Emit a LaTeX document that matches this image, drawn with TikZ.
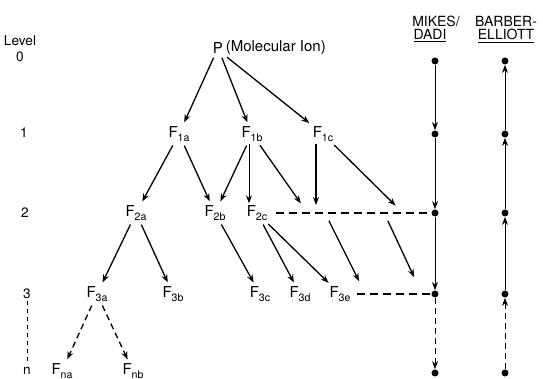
\documentclass[tikz,border=0pt]{standalone}
\usepackage{fontspec}
\setmainfont{TeX Gyre Heros}
\usetikzlibrary{arrows.meta}

\tikzset{
  lbl/.style={font=\fontsize{7.5}{8}\selectfont, inner sep=1pt},
  lvl/.style={font=\fontsize{6.8}{7}\selectfont, inner sep=1pt},
  hdr/.style={font=\fontsize{7}{7}\selectfont, inner sep=0.5pt},
  arr/.style={-{Stealth[length=4pt,width=3pt]}, line width=0.65pt, shorten >=1pt, shorten <=1pt},
  darr/.style={arr, dash pattern=on 3pt off 2pt},
  varr/.style={-{Stealth[length=4pt,width=3pt]}, line width=0.45pt},
  dline/.style={line width=0.8pt, dash pattern=on 4pt off 2.5pt},
  dot/.style={circle, fill, inner sep=0pt, minimum size=3.5pt},
}
\newcommand{\frag}[1]{F\raisebox{-0.45ex}{\fontsize{5.3}{5}\selectfont #1}}

\begin{document}
\begin{tikzpicture}[x=0.5pt, y=-0.5pt]
    \useasboundingbox (0,0) rectangle (543,379);

    % levels
    \node[lvl] (level) at (20,41) {Level};
    \node[lvl] (lev0) at (20,57) {0};
    \node[lvl] (lev1) at (24,133) {1};
    \node[lvl] (lev2) at (25,213) {2};
    \node[lvl] (lev3) at (27,294) {3};
    \node[lvl] (levn) at (27,371) {n};
    \draw[dash pattern=on 2pt off 2pt, line width=0.4pt] (lev3) -- (levn);

    % fragmentation tree
    \node[lbl] (P) at (218,48) {P};
    \node[lbl, anchor=west, inner sep=0pt] (ion) at (P.east) {(Molecular Ion)};
    \node[lbl] (f1a) at (179,134) {\frag{1a}};
    \node[lbl] (f1b) at (252,134) {\frag{1b}};
    \node[lbl] (f1c) at (323,134) {\frag{1c}};
    \node[lbl] (f2a) at (136,213) {\frag{2a}};
    \node[lbl] (f2b) at (215,213) {\frag{2b}};
    \node[lbl] (f2c) at (257,213) {\frag{2c}};
    \node[lbl] (f3a) at (97,294) {\frag{3a}};
    \node[lbl] (f3b) at (173,294) {\frag{3b}};
    \node[lbl] (f3c) at (260,294) {\frag{3c}};
    \node[lbl] (f3d) at (300,294) {\frag{3d}};
    \node[lbl] (f3e) at (340,294) {\frag{3e}};
    \node[lbl] (fna) at (62,371) {\frag{na}};
    \node[lbl] (fnb) at (133,371) {\frag{nb}};

    \draw[arr] (P) -- (f1a);
    \draw[arr] (P) -- (f1b);
    \draw[arr] (P.south east) -- (f1c);
    \draw[arr] (f1a) -- (f2a);
    \draw[arr] (f1a) -- (f2b);
    \draw[arr] (f1b) -- (f2b);
    \draw[varr] ([xshift=-1.5pt]f1b.south) -- ([xshift=-1.5pt]f1b.south |- f2c.north);
    \draw[arr] (f2a) -- (f3a);
    \draw[arr] (f2a) -- (f3b);
    \draw[arr] (f2b) -- (f3c);
    \draw[arr] (f2c) -- (f3d);
    \draw[arr] (f2c) -- (f3e);
    \draw[darr] (f3a) -- (fna);
    \draw[darr] (f3a) -- (fnb);

    % MIKES/DADI and BARBER-ELLIOTT columns
    \node[hdr] (mikes) at (436,21) {MIKES/};
    \node[hdr] (dadi) at (430,36) {\underline{DADI}};
    \node[hdr] (barber) at (506,21) {BARBER-};
    \node[hdr] (elliott) at (506,36) {\underline{ELLIOTT}};
    \foreach \n/\y in {0/61, 1/134, 2/213, 3/294, n/373} {
        \node[dot] (m\n) at (435,\y) {};
        \node[dot] (b\n) at (505,\y) {};
    }
    \draw[varr] (m0) -- (m1);
    \draw[varr] (m1) -- (m2);
    \draw[varr] (m2) -- (m3);
    \draw[varr, dash pattern=on 3pt off 2pt] (m3) -- (mn);
    \draw[varr] (b1) -- (b0);
    \draw[varr] (b2) -- (b1);
    \draw[varr] (b3) -- (b2);
    \draw[varr, dash pattern=on 3pt off 2pt] (bn) -- (b3);

    % common lines to the MIKES/DADI column
    \draw[dline, shorten <=3pt] (f2c) -- (m2);
    \draw[dline, shorten <=2pt] (f3e) -- (m3);
    \coordinate (t1) at (302,205);
    \coordinate (t2) at (397,207);
    \coordinate (s1) at (328,219);
    \coordinate (s2) at (387,219);
    \coordinate (e1) at (360,283);
    \coordinate (e2) at (415,279);
    \draw[arr] (f1b) -- (t1);
    \draw[varr, line width=0.6pt] ([xshift=-3.5pt]f1c.south) -- ([xshift=-3.5pt]f1c.south |- t1);
    \draw[arr] (f1c) -- (t2);
    \draw[arr] (s1) -- (e1);
    \draw[arr] (s2) -- (e2);
\end{tikzpicture}
\end{document}
